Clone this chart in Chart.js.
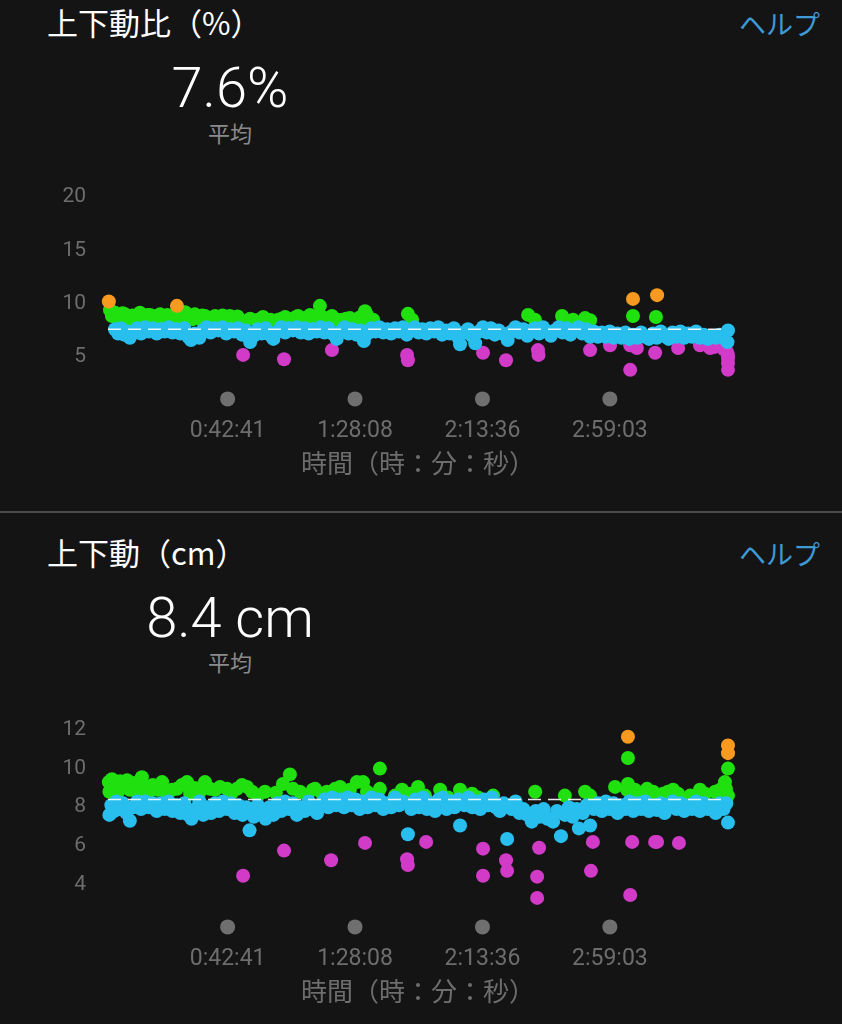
<!DOCTYPE html>
<html lang="ja">
<head>
<meta charset="utf-8">
<script src="https://cdn.jsdelivr.net/npm/chart.js@4.4.1/dist/chart.umd.min.js"></script>
<style>
  html, body { margin: 0; padding: 0; background: #141414; overflow: hidden; }
  body { width: 842px; height: 1024px; position: relative; font-family: "Noto Sans CJK JP", "Noto Sans", sans-serif; }
  .title { position: absolute; left: 47px; color: #fff; font-size: 31px; line-height: 40px; }
  .help { position: absolute; right: 22px; color: #3e9ad6; font-size: 27px; line-height: 40px; }
  .avg { position: absolute; left: 80px; width: 300px; text-align: center; color: #fff; font-family: Roboto, "Liberation Sans", sans-serif; font-weight: 300; font-size: 56px; line-height: 60px; }
  .avgLabel { position: absolute; left: 180px; width: 100px; text-align: center; color: #8a8a8a; font-size: 22px; line-height: 30px; }
  .sep { position: absolute; left: 0; top: 511px; width: 842px; height: 2px; background: #4a4a4a; }
  canvas { position: absolute; left: 0; }
</style>
</head>
<body>
<div class="title" style="top:2px">上下動比（%）</div>
<div class="help" style="top:4px">ヘルプ</div>
<div class="avg" style="top:58px">7.6%</div>
<div class="avgLabel" style="top:117px">平均</div>
<canvas id="ratioChart" width="842" height="346" style="top:157px"></canvas>

<div class="sep"></div>

<div class="title" style="top:532px">上下動（cm）</div>
<div class="help" style="top:534px">ヘルプ</div>
<div class="avg" style="top:588px">8.4 cm</div>
<div class="avgLabel" style="top:646px">平均</div>
<canvas id="oscChart" width="842" height="341" style="top:690px"></canvas>

<script>
// times are minutes into the run
// 上下動比 (%)
const ratioOrange = [[0.3,10.2],[24.6,9.8],[187.3,10.45],[195.9,10.8]];
const ratioGreen = [[0.7,9.4],[1.4,8.85],[2.5,9.15],[3.4,8.7],[4.3,8.8],[5.2,9.1],[6.1,9.0],[7.0,8.6],[7.8,8.55],[8.7,8.9],
  [9.6,8.85],[10.5,8.6],[11.4,9.15],[12.3,8.75],[13.2,8.65],[14.1,8.95],[15.0,8.95],[15.9,8.55],[16.8,8.6],[17.7,8.9],
  [18.6,9.0],[19.5,8.6],[20.3,8.75],[21.2,8.95],[22.1,8.5],[23.0,8.8],[23.9,8.95],[24.8,8.6],[25.7,8.65],[26.6,8.9],
  [27.5,9.2],[28.4,8.7],[29.3,8.75],[30.2,8.55],[31.0,9.0],[31.9,8.7],[32.8,8.55],[33.7,8.9],[34.6,8.85],[35.5,8.55],
  [36.4,8.5],[37.3,8.7],[38.2,8.85],[39.1,8.6],[40.0,8.65],[40.9,8.9],[41.7,8.5],[42.6,8.7],[43.5,8.85],[44.4,8.55],
  [45.3,8.55],[46.2,8.8],[47.1,8.5],[50.7,8.6],[53.5,8.5],[55.3,8.75],[58.0,8.5],[60.7,8.5],[62.0,8.6],[63.2,8.75],
  [64.5,8.5],[65.7,8.55],[66.8,8.7],[67.8,8.85],[69.0,8.5],[70.3,8.65],[71.2,8.5],[72.1,8.95],[73.0,8.6],[73.9,8.5],
  [75.6,9.8],[75.6,8.95],[76.5,8.5],[77.4,8.65],[78.6,8.5],[79.9,8.85],[81.0,8.5],[82.0,8.5],[83.8,8.5],[85.0,8.6],
  [86.3,8.65],[87.4,8.5],[88.5,8.5],[89.8,8.7],[91.0,8.5],[91.7,9.3],[92.4,8.95],[93.5,8.55],[94.6,8.5],[107.0,9.05],
  [108.5,8.5],[149.9,8.95],[152.3,8.5],[162.0,8.85],[165.9,8.5],[170.2,8.65],[172.0,8.45],[187.3,8.85],[195.5,8.75]];
const ratioBlue = [[2.5,7.6],[3.6,7.2],[4.6,7.7],[5.7,7.1],[6.8,7.4],[7.8,6.8],[9.0,7.3],[10.4,7.7],[11.8,7.2],[13.2,7.8],
  [14.6,7.4],[16.0,7.7],[17.4,7.2],[18.8,7.6],[20.2,7.4],[21.6,7.8],[23.0,7.3],[24.4,7.6],[25.8,7.2],[27.2,7.7],
  [28.6,6.9],[29.6,6.6],[31.0,7.2],[32.6,6.8],[33.8,7.5],[35.2,7.8],[36.6,7.3],[38.0,7.7],[39.4,7.5],[40.8,7.8],
  [42.2,7.2],[43.6,7.6],[45.0,7.4],[46.4,7.7],[47.8,7.1],[49.2,7.5],[50.7,6.4],[52.0,7.0],[53.4,7.6],[54.8,7.2],
  [56.2,7.7],[57.6,7.1],[59.0,6.7],[60.4,7.4],[61.8,7.8],[63.2,7.3],[64.6,7.7],[66.0,7.5],[67.4,7.8],[68.8,7.3],
  [70.2,7.7],[71.6,7.2],[73.0,7.6],[74.4,7.4],[75.8,7.8],[77.2,7.3],[78.6,7.7],[80.0,7.2],[81.6,6.7],[83.0,7.4],
  [84.4,7.8],[85.8,7.2],[87.2,7.6],[88.6,7.1],[90.0,7.5],[91.3,6.5],[92.6,7.2],[94.0,7.7],[95.4,7.4],[96.8,7.8],
  [98.2,7.3],[99.6,7.6],[101.0,7.2],[102.4,7.7],[103.8,7.4],[105.2,7.8],[106.6,7.1],[108.0,7.5],[109.4,7.8],[110.8,7.3],
  [112.2,7.6],[113.6,7.2],[115.0,7.7],[116.4,7.4],[117.8,7.8],[119.2,7.1],[120.6,7.5],[122.0,7.2],[123.4,7.7],[124.8,6.9],
  [125.6,6.2],[127.0,7.3],[128.4,7.6],[129.8,7.0],[131.0,6.3],[132.4,7.4],[133.8,7.8],[135.2,7.3],[136.6,7.7],[138.0,7.1],
  [139.4,7.5],[140.8,7.2],[142.6,6.6],[144.0,7.4],[145.4,7.8],[146.8,7.3],[148.2,7.6],[149.6,7.0],[151.0,7.5],[152.4,7.7],
  [153.8,7.2],[155.2,7.8],[156.6,7.4],[158.0,7.0],[159.4,7.5],[160.8,7.8],[162.2,7.3],[163.6,7.7],[165.0,7.1],[166.4,7.5],
  [167.8,7.8],[169.2,7.2],[170.6,7.6],[172.0,6.9],[173.4,7.4],[174.8,6.9],[176.2,7.3],[177.6,6.9],[179.0,7.4],[180.4,6.8],
  [181.8,7.2],[183.2,6.8],[184.6,7.3],[186.0,6.7],[187.4,7.1],[188.8,6.8],[190.2,7.3],[191.6,6.9],[193.0,6.7],[194.4,7.2],
  [195.8,6.8],[197.2,7.4],[198.6,7.0],[200.0,6.7],[201.4,7.3],[202.8,6.9],[204.2,7.4],[205.6,6.8],[207.0,7.2],[208.4,6.9],
  [209.8,7.4],[211.2,6.8],[212.6,7.1],[214.0,6.7],[215.4,7.0],[216.8,6.8],[218.2,7.1],[219.6,6.8],[221.2,7.5],[221.0,6.4]];
const ratioPurple = [[48.2,5.2],[62.8,4.8],[79.9,5.65],[106.7,5.2],[107.0,4.7],[133.8,5.4],[142.0,4.7],[153.4,5.65],[153.6,5.2],[172.0,5.65],
  [179.1,6.1],[186.3,6.1],[188.0,6.0],[188.7,5.85],[186.3,3.8],[195.2,5.4],[203.4,5.85],[211.2,6.1],[214.8,5.85],[216.5,5.95],
  [218.4,6.0],[219.8,5.7],[220.8,5.5],[221.2,5.2],[221.2,4.9],[221.2,4.45],[221.2,3.8]];
const ratioAvg = 7.6;

// 上下動 (cm)
const oscOrange = [[185.5,11.65],[221.2,11.2],[221.2,10.8]];
const oscGreen = [[0.3,9.3],[0.5,8.8],[1.4,9.45],[2.5,9.05],[3.6,8.8],[4.3,9.35],[5.7,9.05],[6.8,9.4],[7.8,8.9],[9.3,9.25],
  [10.7,8.7],[12.1,9.55],[13.2,9.05],[14.6,8.8],[16.0,9.15],[17.8,8.9],[19.3,9.3],[21.1,8.7],[22.8,8.9],[24.6,8.95],
  [26.4,9.15],[28.2,9.3],[29.3,8.7],[31.0,9.0],[32.8,8.8],[34.6,9.3],[36.4,8.95],[38.2,8.9],[40.0,9.05],[42.5,8.95],
  [44.2,8.75],[46.0,8.95],[47.8,9.15],[49.6,9.05],[51.4,8.8],[53.5,8.6],[56.0,8.8],[59.9,8.75],[62.4,9.2],[64.9,9.7],
  [66.0,8.95],[68.5,8.8],[71.0,8.6],[73.1,8.9],[73.9,8.95],[76.4,8.7],[78.1,8.8],[81.0,8.95],[82.8,9.05],[84.6,8.8],
  [86.3,8.9],[88.8,9.3],[91.0,9.3],[92.4,8.8],[94.6,8.6],[97.0,8.95],[97.0,10.0],[102.4,8.6],[104.9,8.9],[107.8,8.7],
  [110.6,9.05],[113.1,8.6],[118.5,8.9],[121.3,8.5],[125.6,8.9],[129.9,8.7],[132.0,8.5],[137.4,8.6],[152.4,8.8],[163.0,8.6],
  [170.2,8.8],[172.0,8.6],[180.9,9.05],[185.5,9.2],[185.5,10.55],[185.2,8.9],[187.0,8.6],[188.0,8.9],[190.5,8.7],[192.3,8.95],
  [194.5,8.8],[196.2,8.6],[198.0,8.7],[199.8,8.8],[201.6,8.9],[203.4,8.7],[207.7,8.6],[211.2,8.9],[213.0,8.7],[216.6,8.8],
  [218.4,8.9],[219.4,8.7],[220.1,9.3],[220.5,8.95],[221.2,10.0],[221.2,8.6]];
const oscBlue = [[0.5,7.6],[1.2,8.1],[2.2,7.8],[3.0,8.3],[4.2,7.9],[5.4,8.2],[6.6,7.7],[7.8,7.3],[9.0,8.0],[10.4,8.3],
  [11.8,7.9],[13.2,8.3],[14.6,8.0],[16.0,8.2],[17.4,7.8],[18.8,8.2],[20.2,7.9],[21.6,8.3],[23.0,7.8],[24.4,8.1],
  [25.8,7.7],[27.2,8.2],[28.6,7.6],[29.8,7.4],[31.2,7.9],[32.6,8.3],[34.0,7.6],[35.4,8.0],[36.8,7.7],[38.2,8.2],
  [39.6,7.8],[41.0,8.3],[42.4,7.9],[43.8,8.2],[45.2,7.7],[46.6,8.1],[48.0,7.6],[49.4,8.0],[50.5,6.8],[52.0,7.5],
  [53.4,8.1],[54.8,7.7],[56.2,7.4],[57.6,8.0],[59.0,7.6],[60.4,8.2],[61.8,7.8],[63.2,8.3],[64.6,7.9],[66.0,8.2],
  [67.4,7.6],[68.8,8.0],[70.2,7.8],[71.6,8.3],[73.0,7.9],[74.6,7.7],[75.8,8.1],[77.2,8.4],[78.6,8.0],[80.0,8.5],
  [81.4,8.1],[82.8,8.4],[84.2,8.0],[85.6,8.5],[87.0,8.1],[88.4,8.4],[89.8,7.9],[91.2,8.3],[92.6,8.0],[94.0,8.5],
  [95.4,8.1],[96.8,8.4],[98.2,7.9],[99.6,8.2],[101.0,8.0],[102.4,8.5],[103.8,8.1],[105.2,8.3],[107.0,6.6],[108.2,7.9],
  [109.6,8.4],[111.0,8.0],[112.4,8.5],[113.8,7.9],[115.2,8.2],[116.7,7.8],[118.0,8.4],[119.4,8.5],[120.8,7.9],[122.2,8.3],
  [123.6,8.0],[125.0,8.4],[125.6,7.05],[127.2,8.1],[128.6,8.5],[130.0,8.0],[131.4,8.3],[132.8,7.9],[134.2,8.4],[135.6,8.1],
  [137.0,8.5],[138.4,8.0],[139.8,7.8],[141.2,8.2],[142.4,6.35],[144.0,7.9],[145.4,8.3],[146.8,7.7],[148.2,7.9],[149.6,7.6],
  [151.2,7.25],[152.6,7.8],[154.0,7.5],[155.4,7.9],[156.8,7.4],[158.8,7.25],[160.2,7.8],[161.6,6.5],[163.0,7.6],[164.4,8.0],
  [165.8,7.5],[167.2,7.9],[168.0,6.9],[169.4,7.7],[170.8,8.1],[172.0,7.05],[173.4,7.9],[174.8,8.2],[176.2,7.8],[177.6,8.3],
  [179.0,7.9],[180.4,8.2],[181.8,7.7],[183.2,8.1],[184.6,7.9],[186.0,8.3],[187.4,7.8],[188.8,8.2],[190.2,7.9],[191.6,8.3],
  [193.0,7.8],[194.4,8.1],[195.9,7.85],[197.2,8.2],[198.6,7.7],[200.0,8.0],[201.4,8.3],[202.8,7.9],[204.2,8.2],[205.6,7.8],
  [207.0,8.1],[208.4,7.9],[209.8,8.3],[211.2,7.8],[212.6,8.2],[214.0,7.9],[215.4,8.1],[216.8,7.7],[218.2,8.2],[219.6,7.9],
  [220.6,8.2],[221.2,7.2]];
const oscPurple = [[48.2,4.45],[62.8,5.75],[79.6,5.25],[91.7,6.15],[106.7,5.3],[107.0,5.0],[113.5,6.2],[133.8,5.85],[133.8,4.45],[142.0,5.25],
  [142.4,4.7],[153.1,4.4],[153.8,5.9],[153.1,3.3],[173.0,6.2],[172.3,4.7],[187.0,6.2],[186.3,3.45],[195.2,6.2],[195.9,6.2],[203.7,6.15]];
const oscAvg = 8.4;

const xTickLabels = ['0:42:41', '1:28:08', '2:13:36', '2:59:03'];
const ratioYTicks = [5, 10, 15, 20];
const oscYTicks = [4, 6, 8, 10, 12];
const runEnd = 221.2; // minutes

function toMinutes(s) {
  const [h, m, sec] = s.split(':').map(Number);
  return h * 60 + m + sec / 60;
}
const xTickValues = xTickLabels.map(toMinutes);

const colors = { orange: '#f89a1f', green: '#20e00f', blue: '#28bfee', purple: '#d13bc8' };
const tickColor = '#6d6d6d';

function pts(list) {
  return list.map(([x, y]) => ({ x, y }));
}

// grey dot above every time label
const tickDots = {
  id: 'tickDots',
  afterDatasetsDraw(chart) {
    const { ctx, chartArea, scales: { x } } = chart;
    ctx.save();
    ctx.fillStyle = '#6f6f6f';
    x.ticks.forEach(t => {
      ctx.beginPath();
      ctx.arc(x.getPixelForValue(t.value), chartArea.bottom - 11.5, 7.5, 0, Math.PI * 2);
      ctx.fill();
    });
    ctx.restore();
  }
};

function makeChart(id, groups, avg, yMin, yMax, yTicks) {
  const datasets = [
    {
      type: 'line',
      data: [{ x: 0, y: avg }, { x: runEnd, y: avg }],
      borderColor: 'rgba(255,255,255,0.9)',
      borderWidth: 1.5,
      borderDash: [13, 7],
      pointRadius: 0,
      order: 0
    },
    ...groups.map((g, i) => ({
      data: pts(g.data),
      backgroundColor: g.color,
      pointRadius: 7,
      borderWidth: 0,
      clip: false,
      order: i + 1
    }))
  ];

  return new Chart(document.getElementById(id), {
    type: 'scatter',
    data: { datasets },
    plugins: [tickDots],
    options: {
      responsive: false,
      animation: false,
      events: [],
      layout: { padding: { top: 40, right: 114, left: 0, bottom: 0 } },
      plugins: { legend: { display: false }, tooltip: { enabled: false } },
      scales: {
        x: {
          type: 'linear',
          min: 0,
          max: runEnd,
          grid: { display: false, drawTicks: false },
          border: { display: false },
          afterBuildTicks: s => { s.ticks = xTickValues.map(v => ({ value: v })); },
          afterFit: s => { s.height = 92.6; },
          ticks: {
            autoSkip: false,
            maxRotation: 0,
            padding: 7,
            color: tickColor,
            font: { family: 'Roboto, "Liberation Sans", sans-serif', size: 23 },
            callback: (v, i) => xTickLabels[i]
          },
          title: {
            display: true,
            text: '時間（時：分：秒）',
            color: tickColor,
            font: { family: '"Noto Sans CJK JP", sans-serif', size: 26 },
            padding: { top: 0, bottom: 24 }
          }
        },
        y: {
          min: yMin,
          max: yMax,
          grid: { display: false, drawTicks: false },
          border: { display: false },
          afterBuildTicks: s => { s.ticks = yTicks.map(v => ({ value: v })); },
          afterFit: s => { s.width = 108; },
          ticks: {
            padding: 22,
            color: tickColor,
            font: { family: 'Roboto, "Liberation Sans", sans-serif', size: 21 }
          }
        }
      }
    }
  });
}

makeChart('ratioChart', [
  { data: ratioOrange, color: colors.orange },
  { data: ratioBlue, color: colors.blue },
  { data: ratioGreen, color: colors.green },
  { data: ratioPurple, color: colors.purple }
], ratioAvg, 0, 20, ratioYTicks);

makeChart('oscChart', [
  { data: oscOrange, color: colors.orange },
  { data: oscBlue, color: colors.blue },
  { data: oscGreen, color: colors.green },
  { data: oscPurple, color: colors.purple }
], oscAvg, 1.2, 12, oscYTicks);
</script>
</body>
</html>
